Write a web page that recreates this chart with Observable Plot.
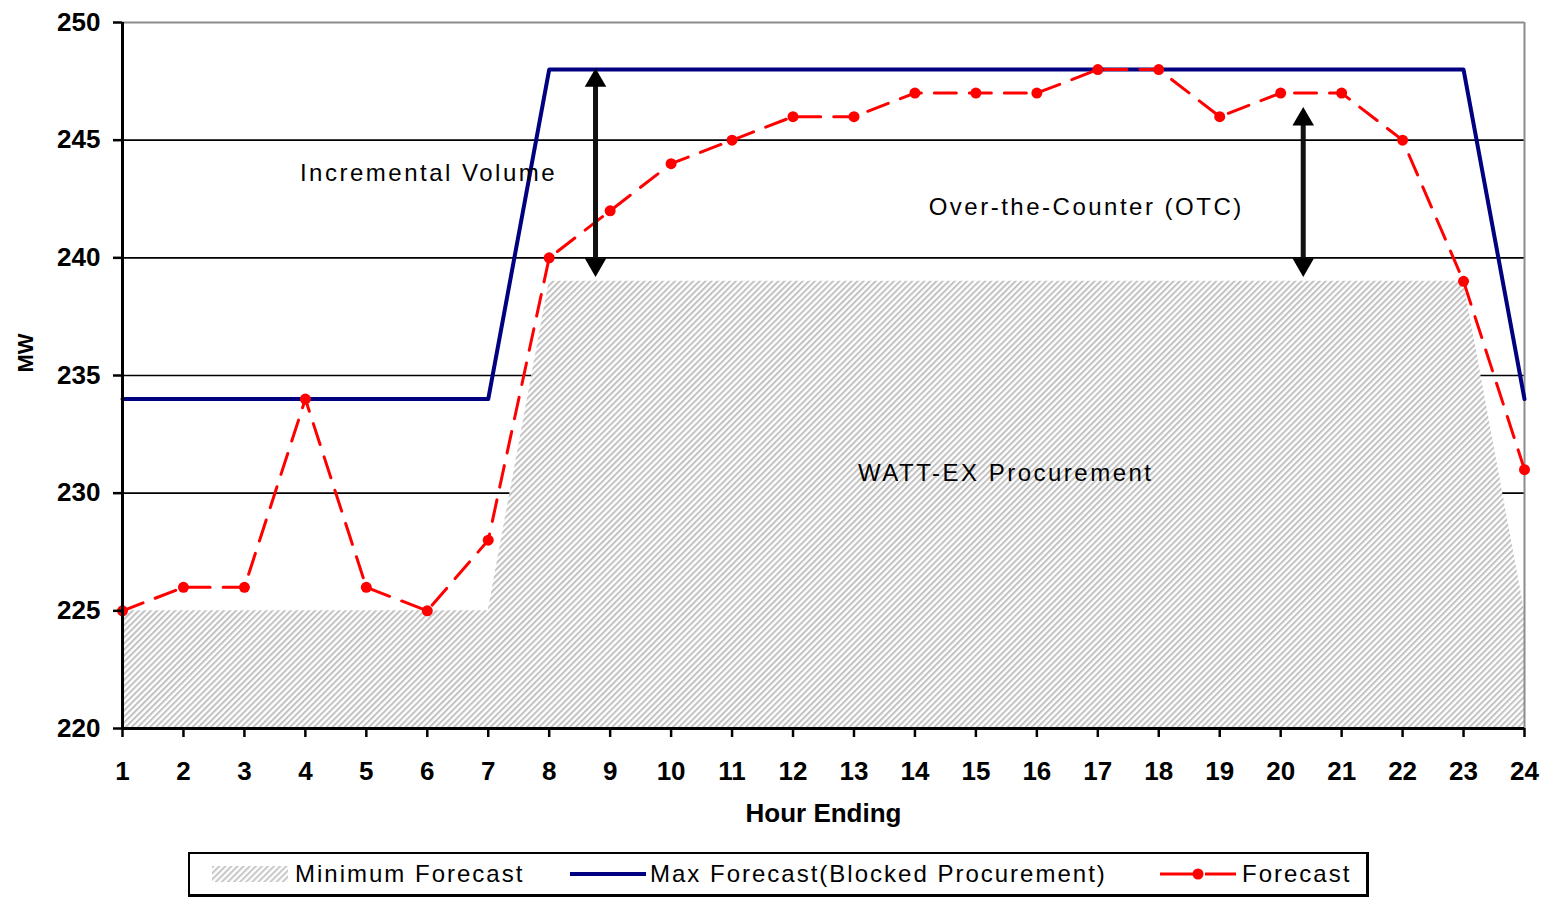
<!DOCTYPE html>
<html>
<head>
<meta charset="utf-8">
<script src="https://cdn.jsdelivr.net/npm/d3@7"></script>
<script src="https://cdn.jsdelivr.net/npm/@observablehq/plot@0.6"></script>
<style>
  body { margin: 0; background: #fff; font-family: "Liberation Sans", Arial, sans-serif; }
  #wrap { position: relative; width: 1547px; height: 900px; }
  #legend { position: absolute; left: 188px; top: 852px; width: 1181px; height: 45px; box-sizing: border-box;
            border: 2px solid #000; border-right-width: 3px; border-bottom-width: 3px; background: #fff; }
  .lg { position: absolute; top: 0; height: 40px; line-height: 40px; font-size: 24px; letter-spacing: 2px; color: #000; white-space: nowrap; }
  .sw { position: absolute; }
</style>
</head>
<body>
<div id="wrap">
  <div id="chart"></div>
  <div id="legend"></div>
</div>
<script>
// ---------- data ----------
const hours = [1,2,3,4,5,6,7,8,9,10,11,12,13,14,15,16,17,18,19,20,21,22,23,24];
const minimumForecast = [225,225,225,225,225,225,225,239,239,239,239,239,239,239,239,239,239,239,239,239,239,239,239,225];
const maxForecast     = [234,234,234,234,234,234,234,248,248,248,248,248,248,248,248,248,248,248,248,248,248,248,248,234];
const forecast        = [225,226,226,234,226,225,228,240,242,244,245,246,246,247,247,247,248,248,246,247,247,245,239,231];
const yTicks = [220,225,230,235,240,245,250];
const gridValues = [230,235,240,245];
const annotationLabels = ["Incremental Volume", "Over-the-Counter (OTC)", "WATT-EX Procurement"];
const annotationX = [6.02, 16.81, 15.49];
const annotationY = [243.6, 242.15, 230.85];
const arrowX = [8.76, 20.37];
const arrowTop = [248, 246.35];
const arrowBottom = [239.25, 239.25];
const legendLabels = ["Minimum Forecast", "Max Forecast(Blocked Procurement)", "Forecast"];

const rows = hours.map((h, i) => ({hour: h, min: minimumForecast[i], max: maxForecast[i], fc: forecast[i]}));
const annots = annotationLabels.map((t, i) => ({text: t, x: annotationX[i], y: annotationY[i]}));
const arrows = arrowX.map((x, i) => ({x, y1: arrowTop[i], y2: arrowBottom[i]}));

const W = 1547, H = 845;
const chart = Plot.plot({
  width: W, height: H,
  marginLeft: 122, marginRight: 23, marginTop: 22, marginBottom: H - 728,
  style: {fontFamily: "'Liberation Sans', Arial, sans-serif", fontSize: "24px", color: "#000", background: "#fff", overflow: "visible"},
  x: {type: "linear", domain: [1, 24]},
  y: {domain: [220, 250]},
  marks: [
    Plot.ruleY(gridValues, {stroke: "#000", strokeWidth: 1.6}),
    Plot.areaY(rows, {x: "hour", y1: 220, y2: "min", fill: "url(#hatch)"}),
    Plot.ruleY([250], {stroke: "#8c8c8c", strokeWidth: 2}),
    Plot.ruleX([24], {stroke: "#8c8c8c", strokeWidth: 2}),
    Plot.lineY(rows, {x: "hour", y: "max", stroke: "#000080", strokeWidth: 4}),
    Plot.lineY(rows, {x: "hour", y: "fc", stroke: "#ff0000", strokeWidth: 3, strokeDasharray: "22,13"}),
    Plot.dot(rows, {x: "hour", y: "fc", fill: "#ff0000", r: 5.5}),
    Plot.ruleX(arrows, {x: "x", y1: "y1", y2: "y2", stroke: "#111", strokeWidth: 5, insetTop: 10, insetBottom: 10}),
    Plot.dot(arrows, {x: "x", y: "y1", symbol: "triangle", r: 8, fill: "#000", dy: 11}),
    Plot.dot(arrows, {x: "x", y: "y2", symbol: "triangle", r: 8, fill: "#000", dy: -11, rotate: 180}),
    Plot.text(annots, {x: "x", y: "y", text: "text", fontSize: 24, fill: "#000", ariaDescription: "annotation"}),
    Plot.ruleX([1], {stroke: "#000", strokeWidth: 3}),
    Plot.ruleY([220], {stroke: "#000", strokeWidth: 3}),
    Plot.axisY({ticks: yTicks, tickSize: 9, tickPadding: 13, strokeWidth: 2.5, fontSize: 26, fontWeight: "bold", label: null, tickFormat: d => String(d)}),
    Plot.axisX({ticks: hours, tickSize: 9, tickPadding: 24, strokeWidth: 2.5, fontSize: 26, fontWeight: "bold", label: null, tickFormat: d => String(d)}),
    Plot.text(["Hour Ending"], {frameAnchor: "bottom", dy: 93, fontSize: 26, fontWeight: "bold", fill: "#000"}),
    Plot.text(["MW"], {frameAnchor: "left", dx: -97, dy: -3, rotate: -90, fontSize: 22, fontWeight: "bold", fill: "#000"})
  ]
});

// hatch pattern
const defs = d3.select(chart).insert("defs", ":first-child");
const pat = defs.append("pattern").attr("id", "hatch").attr("patternUnits", "userSpaceOnUse")
  .attr("width", 4.3).attr("height", 4.3).attr("patternTransform", "rotate(45)");
pat.append("rect").attr("width", 4.3).attr("height", 4.3).attr("fill", "#fff");
pat.append("line").attr("x1", 1).attr("y1", 0).attr("x2", 1).attr("y2", 4.3).attr("stroke", "#c2c2c2").attr("stroke-width", 2);
d3.select(chart).selectAll('g[aria-description="annotation"] text').attr("letter-spacing", "2.5px");

document.getElementById("chart").appendChild(chart);

// legend
const lg = document.getElementById("legend");
const swHatch = `<svg class="sw" style="left:22px;top:12px" width="76" height="16"><defs><pattern id="hatch2" patternUnits="userSpaceOnUse" width="4.3" height="4.3" patternTransform="rotate(45)"><rect width="4.3" height="4.3" fill="#fff"/><line x1="1" y1="0" x2="1" y2="4.3" stroke="#c8c8c8" stroke-width="2.1"/></pattern></defs><rect width="76" height="16" fill="url(#hatch2)"/></svg>`;
const swMax = `<svg class="sw" style="left:380px;top:17px" width="76" height="6"><line x1="0" y1="3" x2="76" y2="3" stroke="#000080" stroke-width="4"/></svg>`;
const swFc = `<svg class="sw" style="left:970px;top:12px" width="76" height="16"><line x1="0" y1="8" x2="33" y2="8" stroke="#ff0000" stroke-width="3"/><line x1="45" y1="8" x2="76" y2="8" stroke="#ff0000" stroke-width="3"/><circle cx="38" cy="8" r="5.5" fill="#ff0000"/></svg>`;
lg.innerHTML = swHatch + swMax + swFc +
  `<div class="lg" style="left:105px">${legendLabels[0]}</div>` +
  `<div class="lg" style="left:460px">${legendLabels[1]}</div>` +
  `<div class="lg" style="left:1052px">${legendLabels[2]}</div>`;
</script>
</body>
</html>
